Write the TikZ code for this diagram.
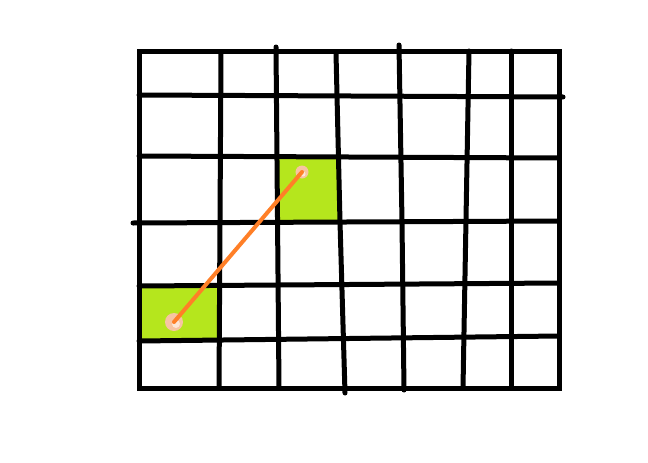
\documentclass[tikz,border=0pt]{standalone}
\usetikzlibrary{calc}
\definecolor{lime}{HTML}{B5E61D}
\definecolor{paintorange}{HTML}{FF7F27}
\definecolor{peach}{HTML}{F7C4A2}
\definecolor{peachlight}{HTML}{FDE6D6}
\tikzset{
  gridline/.style={line width=5pt, line cap=round, black},
  cellfill/.style={fill=lime, draw=none},
  linkline/.style={line width=4pt, paintorange, line cap=round},
  dotmark/.style={fill=peach, draw=none},
  dotcore/.style={fill=peachlight, draw=none}
}
\begin{document}
\begin{tikzpicture}[x=1pt,y=-1pt]
\useasboundingbox (0,0) rectangle (648,463);
\fill[white] (0,0) rectangle (648,463);
% green cells
\fill[cellfill] (139,286) -- (219,286) -- (219,341) -- (139,341) -- cycle;
\fill[cellfill] (278,157) -- (337,157) -- (339,222) -- (278,222) -- cycle;
% horizontal lines
\draw[gridline] (139,95) -- (563,97);
\draw[gridline] (139,156) -- (559,158);
\draw[gridline] (133,223) -- (559,221);
\draw[gridline] (139,286) -- (559,283);
\draw[gridline] (139,341) -- (559,336);
% vertical lines
\draw[gridline] (221,53) -- (219,388);
\draw[gridline] (276,47) -- (279,388);
\draw[gridline] (336,53) -- (340,222) -- (345,393);
\draw[gridline] (399,45) -- (402,222) -- (404,390);
\draw[gridline] (469,51) -- (463,388);
\draw[gridline] (511,51) -- (511,388);
% frame
\draw[gridline, line cap=butt, line join=miter] (139,51) rectangle (559,388);
% orange link
\coordinate (pa) at (174,322);
\coordinate (pb) at (302,172);
\fill[dotmark] (pa) circle (9);
\fill[dotcore] (176,324) circle (4);
\fill[dotmark] (pb) circle (6.5);
\fill[dotcore] (303,174) circle (2.5);
\draw[linkline] (pa) -- (pb);
\end{tikzpicture}
\end{document}
